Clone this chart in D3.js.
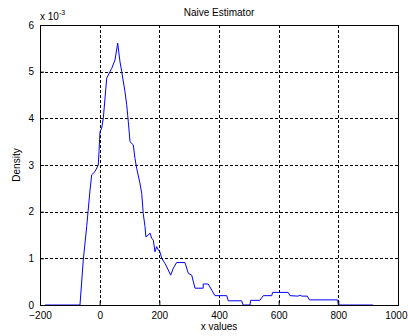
<!DOCTYPE html>
<html>
<head>
<meta charset="utf-8">
<script src="https://cdn.jsdelivr.net/npm/d3@7"></script>
<style>
  body { margin: 0; background: #fff; }
  text { font-family: "Liberation Sans", Arial, sans-serif; }
</style>
</head>
<body>
<svg id="chart" width="408" height="336"></svg>
<script>
// density curve (x, density in units of 1e-3)
const xs = [-183, -66, -55, -43.5, -32.4, -26.7, -15.6, -4.6, -2.2, 1.1, 6.8, 12.2, 23.6, 28.9, 40.3, 51.4, 60.4,
  68.2, 73.9, 84.9, 90.6, 96, 101.7, 112.7, 118.4, 124, 135, 141, 146, 152, 155, 163, 168.7, 174.4, 179.8,
  185.5, 191, 196.5, 202, 208, 219, 230, 238, 247, 258, 286, 297, 308.5, 319.6, 347, 347, 364, 375.5, 386.6,
  426, 431, 476, 481, 504, 506, 537, 548.5, 576.7, 580, 632, 638, 665, 671, 678, 696, 703, 798, 800, 916];
const ys = [0, 0, 0.96, 1.68, 2.46, 2.79, 2.86, 3.0, 3.29, 3.71, 3.79, 4.0, 4.86, 4.93, 5.07, 5.25, 5.61,
  5.21, 5.0, 4.57, 4.29, 3.93, 3.5, 3.43, 3.14, 2.93, 2.61, 2.39, 1.96, 1.68, 1.46, 1.5, 1.54, 1.43, 1.39,
  1.14, 1.25, 1.18, 1.14, 1.0, 0.89, 0.75, 0.64, 0.79, 0.91, 0.91, 0.68, 0.64, 0.36, 0.36, 0.45, 0.45, 0.32, 0.2,
  0.2, 0.09, 0.09, 0, 0, 0.1, 0.1, 0.2, 0.2, 0.27, 0.27, 0.2, 0.19, 0.21, 0.19, 0.19, 0.11, 0.11, 0, 0];

const xTicks = [-200, 0, 200, 400, 600, 800, 1000];
const yTicks = [0, 1, 2, 3, 4, 5, 6];

const svg = d3.select("#chart");
const mLeft = 40, mRight = 398, mTop = 25, mBottom = 305;

const x = d3.scaleLinear().domain([-200, 1000]).range([mLeft, mRight]);
const y = d3.scaleLinear().domain([0, 6]).range([mBottom, mTop]);

// grid
const grid = svg.append("g")
  .attr("stroke", "#000")
  .attr("stroke-width", 1)
  .attr("stroke-dasharray", "3,2")
  .attr("shape-rendering", "crispEdges");
grid.selectAll("line.gx")
  .data(xTicks.slice(1, -1))
  .enter().append("line")
  .attr("x1", d => Math.round(x(d)) + 0.5).attr("x2", d => Math.round(x(d)) + 0.5)
  .attr("y1", mTop).attr("y2", mBottom);
grid.selectAll("line.gy")
  .data(yTicks.slice(1, -1))
  .enter().append("line")
  .attr("y1", d => Math.round(y(d)) + 0.5).attr("y2", d => Math.round(y(d)) + 0.5)
  .attr("x1", mLeft).attr("x2", mRight);

// curve
const line = d3.line()
  .x((d, i) => x(xs[i]))
  .y((d, i) => y(ys[i]));
svg.append("path")
  .datum(xs)
  .attr("d", line)
  .attr("fill", "none")
  .attr("stroke", "#0000ff")
  .attr("stroke-width", 1);

// box
svg.append("rect")
  .attr("x", mLeft + 0.5).attr("y", mTop + 0.5)
  .attr("width", mRight - mLeft).attr("height", mBottom - mTop)
  .attr("fill", "none").attr("stroke", "#000")
  .attr("shape-rendering", "crispEdges");

// axes, MATLAB style ticks pointing inward
const xAxis = d3.axisBottom(x).tickValues(xTicks).tickSize(-4).tickPadding(7).tickFormat(d3.format("d"));
const yAxis = d3.axisLeft(y).tickValues(yTicks).tickSize(-4).tickPadding(6).tickFormat(d3.format("d"));

const gx = svg.append("g").attr("transform", `translate(0,${mBottom})`).call(xAxis);
const gy = svg.append("g").attr("transform", `translate(${mLeft},0)`).call(yAxis);
[gx, gy].forEach(g => {
  g.select(".domain").remove();
  g.selectAll("line").attr("stroke", "#000");
  g.selectAll("text").attr("font-size", 10).attr("fill", "#000")
    .style("font-family", '"Liberation Sans", Arial, sans-serif');
});
// keep the last x label inside the window
gx.selectAll(".tick text").filter(d => d === 1000).attr("text-anchor", "end").attr("x", 9);

// labels
svg.append("text")
  .attr("x", (mLeft + mRight) / 2).attr("y", 16)
  .attr("text-anchor", "middle").attr("font-size", 10)
  .text("Naive Estimator");

svg.append("text")
  .attr("x", (mLeft + mRight) / 2).attr("y", 330)
  .attr("text-anchor", "middle").attr("font-size", 10)
  .text("x values");

svg.append("text")
  .attr("transform", `translate(20,${(mTop + mBottom) / 2}) rotate(-90)`)
  .attr("text-anchor", "middle").attr("font-size", 10)
  .text("Density");

const expo = svg.append("text")
  .attr("x", mLeft).attr("y", 20).attr("font-size", 10);
expo.append("tspan").text("x 10");
expo.append("tspan").attr("dy", -5).attr("font-size", 7).text("-3");
</script>
</body>
</html>
